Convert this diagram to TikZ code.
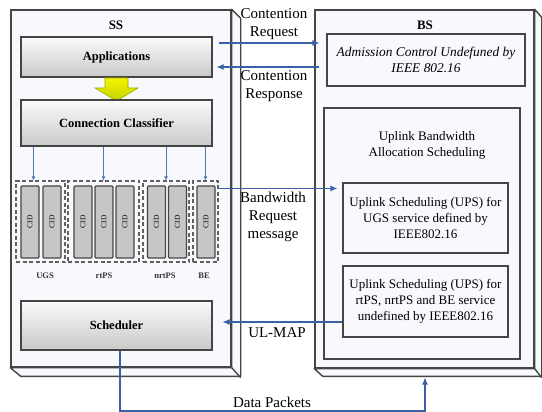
\documentclass[tikz,border=0pt]{standalone}
\usepackage{fontspec}
\setmainfont{Liberation Serif}
\usetikzlibrary{arrows.meta}
\definecolor{lineblue}{HTML}{3A60A6}
\definecolor{edge}{HTML}{454545}
\definecolor{face}{HTML}{F7F9FC}
\definecolor{cidfill}{HTML}{C6C6C6}
\definecolor{ytop}{HTML}{F4F400}
\definecolor{ybot}{HTML}{C4D400}
\begin{document}
\begin{tikzpicture}[x=1pt,y=-1pt,
  shell/.style={draw=edge, line width=1.4pt, fill=face, inner sep=0pt},
  bevel/.style={draw=edge, line width=1.4pt, fill=face, line join=round},
  gbox/.style={draw=edge, line width=1.1pt, top color=gray!4, bottom color=gray!42, inner sep=0pt,
    font=\fontsize{12.5}{15}\selectfont\bfseries},
  wbox/.style={draw=edge, line width=1.1pt, inner sep=0pt},
  grp/.style={draw=gray!75!black, dash pattern=on 4pt off 2.5pt, line width=1.1pt, inner sep=0pt},
  cid/.style={draw=edge, fill=cidfill, line width=1.1pt, rounded corners=1pt, inner sep=0pt,
    minimum width=18pt, minimum height=72pt, font=\fontsize{7.5}{8}\selectfont},
  conn/.style={draw=lineblue, line width=1.1pt, -{Latex[length=7pt,width=6pt]}},
  thin/.style={draw=lineblue!85, line width=0.8pt, -{Latex[length=4pt,width=4pt]}},
  big/.style={font=\fontsize{15}{18}\selectfont, align=center, inner sep=0pt},
  btxt/.style={font=\fontsize{13}{16}\selectfont, align=center, inner sep=0pt},
  glbl/.style={font=\fontsize{8.5}{9}\selectfont\bfseries, text=black!80, inner sep=0pt},
  title/.style={font=\fontsize{13}{15}\selectfont\bfseries, inner sep=0pt}]
\useasboundingbox (0,0) rectangle (542,412);
\fill[white] (0,0) rectangle (542,412);

% SS shell
\node[shell, minimum width=220pt, minimum height=357pt] (ss) at (121,188.5) {};
\draw[bevel] (ss.north east) -- ++(9,9) -- ++(0,358) -- ++(-220,0) -- (ss.south west) -- (ss.south east) -- cycle;
\draw[bevel] (ss.south east) -- ++(9,10);
\node[title] (sslbl) at (116,25) {SS};

% BS shell
\node[shell, minimum width=219pt, minimum height=358pt] (bs) at (424.5,189) {};
\draw[bevel] (bs.north east) -- ++(7,8) -- ++(0,359) -- ++(-219,0) -- (bs.south west) -- (bs.south east) -- cycle;
\draw[bevel] (bs.south east) -- ++(7,9);
\node[title] (bslbl) at (425,25) {BS};

% SS contents
\node[gbox, minimum width=191pt, minimum height=40pt] (app) at (116.5,57) {Applications};
\path[draw=ybot!80!black, line width=0.6pt, top color=ytop, bottom color=ybot]
  (105,78) -- (128,78) -- (128,88) -- (138,88) -- (116.5,101) -- (95,88) -- (105,88) -- cycle;
\node[gbox, minimum width=191pt, minimum height=46pt] (cc) at (116.5,123) {Connection Classifier};

\node[grp, minimum width=49pt, minimum height=81pt] (gU) at (40.5,221.5) {};
\node[grp, minimum width=71pt, minimum height=81pt] (gR) at (103.5,221.5) {};
\node[grp, minimum width=46pt, minimum height=81pt] (gN) at (166,221.5) {};
\node[grp, minimum width=25pt, minimum height=81pt] (gB) at (205.5,221.5) {};

\node[cid] (c1) at (30,222) {\rotatebox{90}{CID}};
\node[cid] (c2) at (52,222) {\rotatebox{90}{CID}};
\node[cid] (c3) at (83,222) {\rotatebox{90}{CID}};
\node[cid] (c4) at (104,222) {\rotatebox{90}{CID}};
\node[cid] (c5) at (125,222) {\rotatebox{90}{CID}};
\node[cid] (c6) at (156.5,222) {\rotatebox{90}{CID}};
\node[cid] (c7) at (177.5,222) {\rotatebox{90}{CID}};
\node[cid] (c8) at (206,222) {\rotatebox{90}{CID}};

\node[glbl] (lU) at (45,276) {UGS};
\node[glbl] (lR) at (104,276) {rtPS};
\node[glbl] (lN) at (165,276) {nrtPS};
\node[glbl] (lB) at (204,276) {BE};

\draw[thin] (cc.south -| c2.west) ++(-9,0) coordinate (tU) -- (tU |- gU.north);
\draw[thin] (cc.south -| gR.north) -- (gR.north);
\draw[thin] (cc.south -| gN.north) -- (gN.north);
\draw[thin] (cc.south -| gB.north) -- (gB.north);

\node[gbox, minimum width=191pt, minimum height=49pt] (sched) at (116.5,325.5) {Scheduler};

% BS contents
\node[wbox, minimum width=198pt, minimum height=52pt,
  font=\fontsize{13.4}{15.5}\selectfont\itshape, align=center] (adm) at (426,60)
  {Admission Control Undefuned by\\IEEE 802.16};
\node[wbox, minimum width=196pt, minimum height=251pt] (ubas) at (422,233.5) {};
\node[btxt] (ubastxt) at (427,145.5) {Uplink Bandwidth\\Allocation Scheduling};
\node[wbox, minimum width=165pt, minimum height=70pt, btxt] (ugs) at (425.5,218)
  {Uplink Scheduling (UPS) for\\UGS service defined by\\IEEE802.16};
\node[wbox, minimum width=165pt, minimum height=71pt, btxt] (rtps) at (425.5,301.5)
  {Uplink Scheduling (UPS) for\\rtPS, nrtPS and BE service\\undefined by IEEE802.16};

% connectors
\draw[conn, shorten <=6pt, shorten >=7pt] ([yshift=14pt]app.east) -- ([yshift=14pt]app.east -| adm.west);
\draw[conn, shorten <=7pt, shorten >=4pt] ([yshift=-10pt]app.east -| adm.west) -- ([yshift=-10pt]app.east);
\draw[conn, shorten >=5pt] ([yshift=-8pt]gB.north east) -- ([yshift=-8pt]gB.north east -| ugs.west);
\draw[conn, shorten >=10pt] ([yshift=-20.5pt]rtps.west) -- ([yshift=-20.5pt]rtps.west -| sched.east);
\coordinate (dpL) at (120,411);
\coordinate (dpR) at (425,411);
\coordinate (bsIn) at (425,377.5);
\draw[conn] (sched.south -| dpL) -- (dpL) -- (dpR) -- (bsIn);

% labels
\node[big] (crq) at (274,24) {Contention\\Request};
\node[big] (crs) at (274,86) {Contention\\Response};
\node[big] (bwr) at (273,217) {Bandwidth\\Request\\message};
\node[big] (ulm) at (277,333) {UL-MAP};
\node[big] (dpk) at (272,402) {Data Packets};
\end{tikzpicture}
\end{document}
